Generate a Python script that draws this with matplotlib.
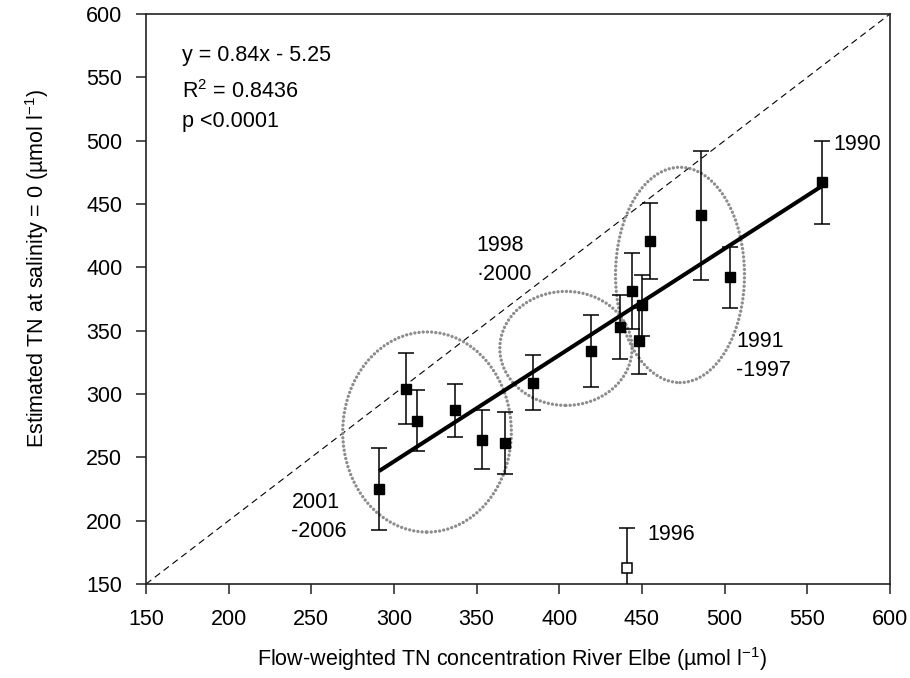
import matplotlib
matplotlib.use("Agg")
import matplotlib.pyplot as plt
from matplotlib.patches import Ellipse

plt.rcParams["font.family"] = ["Liberation Sans", "DejaVu Sans"]
plt.rcParams["mathtext.default"] = "regular"

# River Elbe TN data
flow_tn = [291, 307, 314, 337, 353, 367, 384, 419, 437, 444, 455, 450, 448, 486, 503, 559]
est_tn = [225, 304, 279, 287, 264, 261, 309, 334, 353, 381, 421, 370, 342, 441, 392, 467]
err = [32, 28, 24, 21, 23, 24.5, 22, 28.6, 25, 30, 30, 24, 26, 51, 24, 33]

# outlier year 1996 (open symbol)
out_x = [441]
out_y = [163]
out_err = [31]

# regression fit
slope = 0.84
intercept = -5.25
fit_x = [291, 559]

# grouping ellipses: centre x, centre y, width, height
groups_cx = [320, 404, 473]
groups_cy = [270, 336, 394]
groups_w = [102, 80, 78]
groups_h = [158, 90, 170]

year_labels = ["1990", "1991\n-1997", "1998\n·2000", "2001\n-2006", "1996"]
year_x = [566, 507, 350, 238, 453]
year_y = [497, 330, 406, 203, 189]

fig = plt.figure(figsize=(9.1, 6.78), dpi=100)
ax = fig.add_axes([0.1604, 0.1386, 0.8176, 0.8408])

# 1:1 line
ax.plot([150, 600], [150, 600], color="black", lw=0.8, ls=(0, (6, 4)), zorder=1)

for cx, cy, w, h in zip(groups_cx, groups_cy, groups_w, groups_h):
    e = Ellipse((cx, cy), w, h, fill=False, edgecolor="#8c8c8c",
                lw=2.4, ls=(0, (0.01, 1.25)), zorder=2)
    e.set_capstyle("round")
    ax.add_patch(e)

ax.plot(fit_x, [slope * v + intercept for v in fit_x], color="black", lw=2.9,
        zorder=3, solid_capstyle="butt")

ax.errorbar(flow_tn, est_tn, yerr=err, fmt="s", color="black", ms=7.5,
            ecolor="black", elinewidth=1.1, capsize=5.5, capthick=1.1, zorder=4)
ax.errorbar(out_x, out_y, yerr=out_err, fmt="s", mfc="white", mec="black",
            ms=7, mew=1.1, ecolor="black", elinewidth=1.1, capsize=5.5,
            capthick=1.1, zorder=4)

for lab, lx, ly in zip(year_labels, year_x, year_y):
    ax.text(lx, ly, lab, fontsize=15.5, ha="left", va="center", linespacing=1.5)

ax.text(172, 567, "y = 0.84x - 5.25", fontsize=15.5, va="center")
ax.text(172, 539, "R$^{2}$ = 0.8436", fontsize=15.5, va="center")
ax.text(172, 515, "p <0.0001", fontsize=15.5, va="center")

ax.set_xlim(150, 600)
ax.set_ylim(150, 600)
ax.set_xticks(range(150, 601, 50))
ax.set_yticks(range(150, 601, 50))
ax.tick_params(direction="out", length=7, width=1.1, labelsize=15.5, color="#222222")
ax.tick_params(axis="x", pad=11)
ax.tick_params(axis="y", pad=10)
for s in ax.spines.values():
    s.set_linewidth(1.2)
    s.set_color("#222222")

ax.set_xlabel("Flow-weighted TN concentration River Elbe (µmol l$^{-1}$)", fontsize=15.5)
ax.set_ylabel("Estimated TN at salinity = 0 (µmol l$^{-1}$)", fontsize=15.5)
ax.xaxis.set_label_coords(0.492, -0.108)
ax.yaxis.set_label_coords(-0.128, 0.554)

fig.savefig("out.png", dpi=100, facecolor="white")
